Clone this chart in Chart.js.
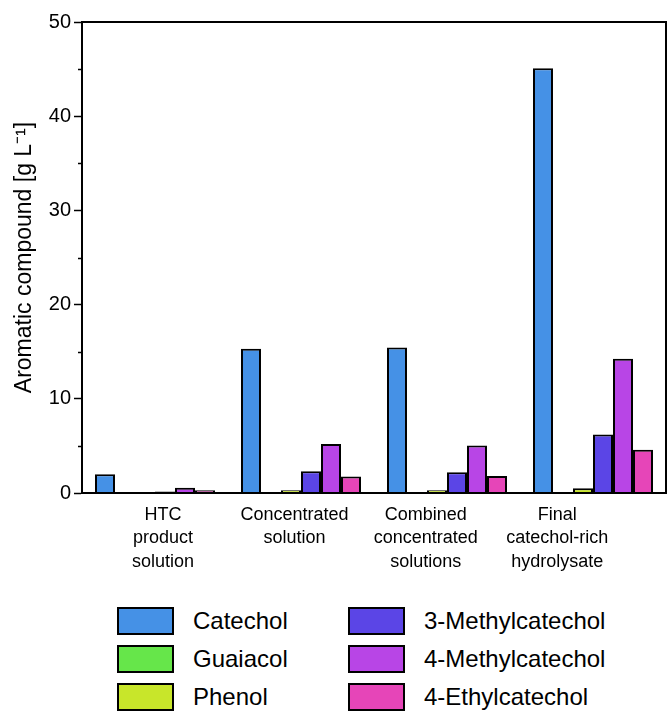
<!DOCTYPE html>
<html>
<head>
<meta charset="utf-8">
<script src="https://cdn.jsdelivr.net/npm/chart.js@4.4.1/dist/chart.umd.min.js"></script>
<style>
  body { margin: 0; background: #fff; font-family: "Liberation Sans", Arial, sans-serif; }
  #wrap { position: relative; width: 671px; height: 711px; }
  #legend {
    position: absolute; left: 117px; top: 607px;
    display: grid; grid-auto-flow: column;
    grid-template-rows: repeat(3, 38px); grid-template-columns: 231px 231px;
  }
  .item { display: flex; align-items: flex-start; font-size: 24px; color: #000; white-space: nowrap; }
  .box { width: 57px; height: 28px; border: 2px solid #000; box-sizing: border-box; margin-right: 19px; flex: none; }
  .item span { line-height: 28px; }
</style>
</head>
<body>
<div id="wrap">
  <canvas id="chart" width="671" height="600"></canvas>
  <div id="legend"></div>
</div>
<script>
// groups on the x axis
const categories = [
    ['HTC', 'product', 'solution'],
    ['Concentrated', 'solution'],
    ['Combined', 'concentrated', 'solutions'],
    ['Final', 'catechol-rich', 'hydrolysate']
];

// compounds, g/L
const compounds = ['Catechol', 'Guaiacol', 'Phenol', '3-Methylcatechol', '4-Methylcatechol', '4-Ethylcatechol'];
const catechol = [2.0, 15.3, 15.45, 45.1];
const guaiacol = [0.1, 0, 0, 0];
const phenol = [0.1, 0.3, 0.3, 0.5];
const methylcatechol3 = [0.15, 2.3, 2.2, 6.2];
const methylcatechol4 = [0.55, 5.2, 5.05, 14.25];
const ethylcatechol4 = [0.28, 1.75, 1.8, 4.6];

const yTicks = [0, 10, 20, 30, 40, 50];

const colors = ['#4591e6', '#66e64a', '#c8e62a', '#5b45e6', '#b845e6', '#e645b8'];
const seriesValues = [catechol, guaiacol, phenol, methylcatechol3, methylcatechol4, ethylcatechol4];

// box round the plot + short minor ticks + x labels
const framePlugin = {
    id: 'frame',
    afterDraw(chart) {
        const ctx = chart.ctx;
        const a = chart.chartArea;
        const y = chart.scales.y;
        ctx.save();
        ctx.strokeStyle = '#000';
        ctx.lineWidth = 2;
        ctx.strokeRect(a.left, a.top, a.right - a.left, a.bottom - a.top);
        // minor ticks
        ctx.beginPath();
        for (let v = 5; v < 50; v += 10) {
            const py = Math.round(y.getPixelForValue(v)) + 0.5;
            ctx.moveTo(a.left - 4, py);
            ctx.lineTo(a.left, py);
        }
        ctx.lineWidth = 1.5;
        ctx.stroke();
        // category labels, spread a bit tighter than the bars (as in the original)
        const w = (a.right - a.left) / categories.length;
        ctx.fillStyle = '#000';
        ctx.font = '18px "Liberation Sans", Arial, sans-serif';
        ctx.textAlign = 'center';
        ctx.textBaseline = 'top';
        categories.forEach((lines, i) => {
            const cx = a.left + w * (0.555 + 0.9 * i);
            lines.forEach((t, j) => ctx.fillText(t, cx, a.bottom + 13 + j * 23.5));
        });
        ctx.restore();
    }
};

const ctx = document.getElementById('chart').getContext('2d');
new Chart(ctx, {
    type: 'bar',
    data: {
        labels: categories,
        datasets: compounds.map((name, i) => ({
            label: name,
            data: seriesValues[i],
            backgroundColor: colors[i],
            borderColor: '#000',
            borderWidth: 2,
            borderSkipped: 'start',
            categoryPercentage: 0.822,
            barPercentage: 1.0
        }))
    },
    options: {
        responsive: false,
        animation: false,
        layout: { padding: { top: 22, right: 5, left: 0, bottom: 0 } },
        plugins: {
            legend: { display: false },
            tooltip: { enabled: false }
        },
        scales: {
            x: {
                grid: { display: false },
                border: { color: '#000', width: 2 },
                ticks: { display: false },
                afterFit(scale) { scale.height = 107; }
            },
            y: {
                min: 0,
                max: 50,
                afterBuildTicks(scale) { scale.ticks = yTicks.map(v => ({ value: v })); },
                grid: { drawOnChartArea: false, tickLength: 8, tickColor: '#000', tickWidth: 1.5 },
                border: { color: '#000', width: 2 },
                ticks: {
                    color: '#000',
                    padding: 3,
                    font: { family: '"Liberation Sans", Arial, sans-serif', size: 20 }
                },
                title: {
                    display: true,
                    text: 'Aromatic compound [g L\u207B\u00B9]',
                    color: '#000',
                    font: { family: '"Liberation Sans", Arial, sans-serif', size: 23 },
                    padding: { top: 11, bottom: 0 }
                },
                afterFit(scale) { scale.width = 82; }
            }
        }
    },
    plugins: [framePlugin]
});

// legend in two columns, filled top to bottom
const legend = document.getElementById('legend');
compounds.forEach((name, i) => {
    const item = document.createElement('div');
    item.className = 'item';
    item.innerHTML = '<div class="box" style="background:' + colors[i] + '"></div><span>' + name + '</span>';
    legend.appendChild(item);
});
</script>
</body>
</html>
